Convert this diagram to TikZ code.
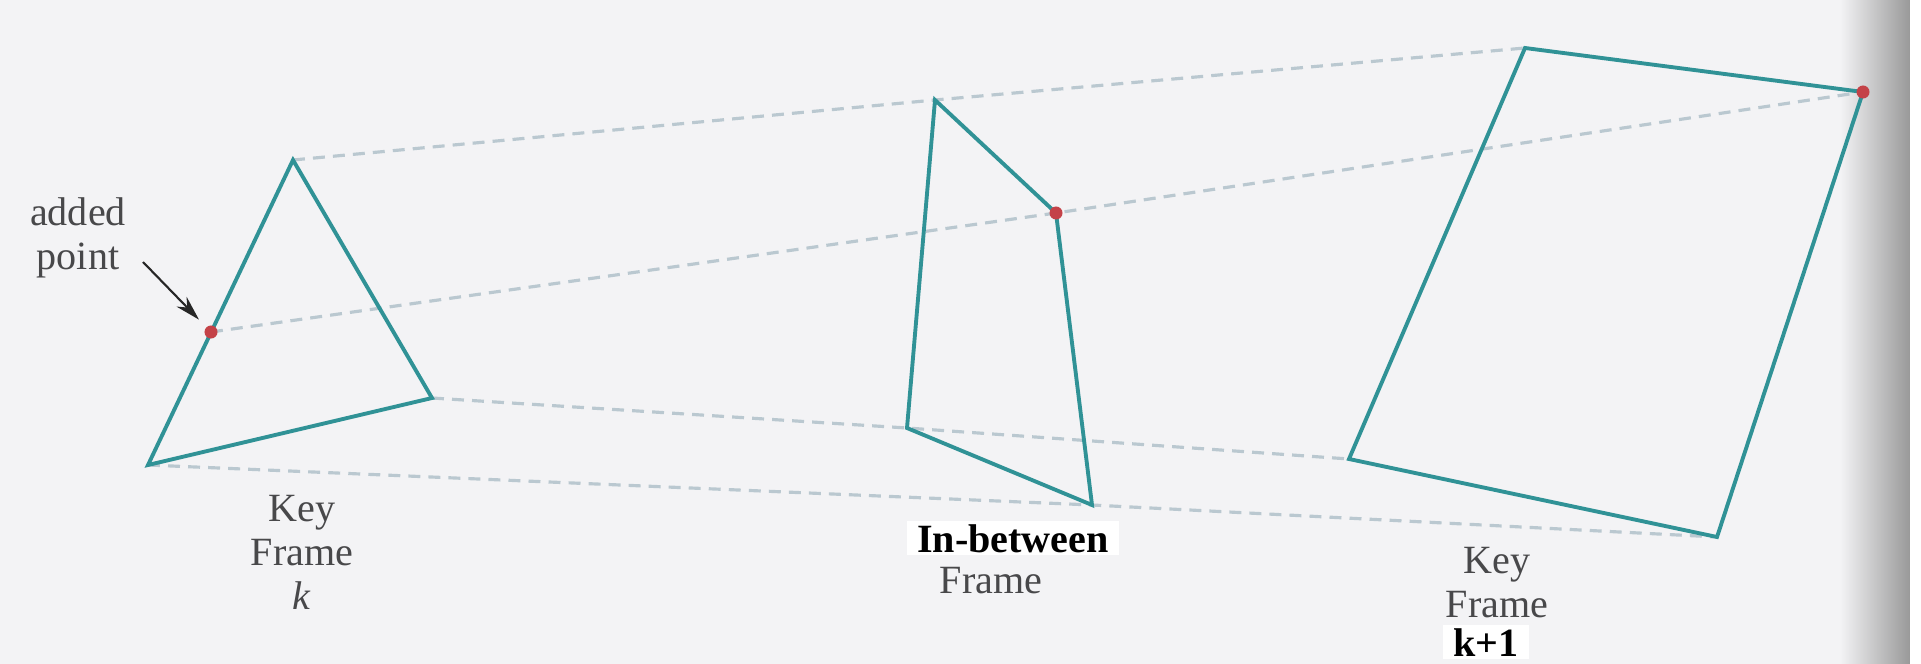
\documentclass[tikz,border=0pt]{standalone}
\usepackage{fontspec}
\setmainfont{Liberation Serif}
\usepackage{xcolor}
\usepackage{tikz}
\usetikzlibrary{arrows.meta,positioning,calc}

\definecolor{edgeteal}{RGB}{48,146,150}
\definecolor{guidegray}{RGB}{186,200,208}
\definecolor{dotred}{RGB}{196,66,72}
\definecolor{paper}{RGB}{243,243,245}
\definecolor{inktext}{RGB}{72,72,74}

\begin{document}
\begin{tikzpicture}[
            x=0.01cm, y=-0.01cm,
            every node/.style={font=\fontsize{11.4}{12.5}\selectfont, inner sep=0},
            outline/.style={draw=edgeteal, line width=1.1pt, line join=miter},
            guide/.style={draw=guidegray, line width=0.9pt, dash pattern=on 3.4pt off 2.3pt},
            keypt/.style={circle, fill=dotred, minimum size=0.13cm},
            lbl/.style={align=center, text=inktext},
            tag/.style={font=\fontsize{11.4}{12.5}\selectfont\bfseries, fill=white, inner xsep=3pt, inner ysep=0.8pt},
        ]
            \fill[paper] (0,0) rectangle (1921,664);
            \shade[left color=paper, right color=black!40] (1840,0) rectangle (1910,664);
            \fill[white] (1910,0) rectangle (1921,664);
            \useasboundingbox (0,0) rectangle (1921,664);
            % key frame k
            \coordinate (ka) at (293,160);
            \coordinate (kb) at (432,398);
            \coordinate (kc) at (148,465);
            \coordinate (kp) at (211,332);
            % in-between frame
            \coordinate (ia) at (935,100);
            \coordinate (ib) at (1056,213);
            \coordinate (ic) at (1092,505);
            \coordinate (id) at (907,428);
            % key frame k+1
            \coordinate (na) at (1525,48);
            \coordinate (nb) at (1863,92);
            \coordinate (nc) at (1717,537);
            \coordinate (nd) at (1349,459);
            \draw[guide] (ka) -- (ia) -- (na);
            \draw[guide] (kp) -- (ib) -- (nb);
            \draw[guide] (kb) -- (id) -- (nd);
            \draw[guide] (kc) -- (ic) -- (nc);
            \draw[outline] (ka) -- (kb) -- (kc) -- cycle;
            \draw[outline] (ia) -- (ib) -- (ic) -- (id) -- cycle;
            \draw[outline] (na) -- (nb) -- (nc) -- (nd) -- cycle;
            \node[keypt] (p1) at (kp) {};
            \node[keypt] (p2) at (ib) {};
            \node[keypt] (p3) at (nb) {};
            \node[lbl, anchor=north] (addlbl) at (78,197) {added\\point};
            \coordinate (arr) at (143,262);
            \draw[-{Stealth[length=0.25cm,width=0.14cm]}, line width=0.6pt, black!85, shorten >=0.1cm] (arr) -- (p1);
            \node[lbl, anchor=north] (kflbl) at (302,495) {Key\\Frame\\\textit{k}};
            \node[tag, anchor=base] (iblbl) at (1013,552) {In-between};
            \node[lbl, anchor=base] (iflbl) at (991,593) {Frame};
            \node[lbl, anchor=north] (nflbl) at (1497,547) {Key\\Frame};
            \node[tag, anchor=base] (nklbl) at (1486,656) {k+1};
        \end{tikzpicture}
\end{document}
